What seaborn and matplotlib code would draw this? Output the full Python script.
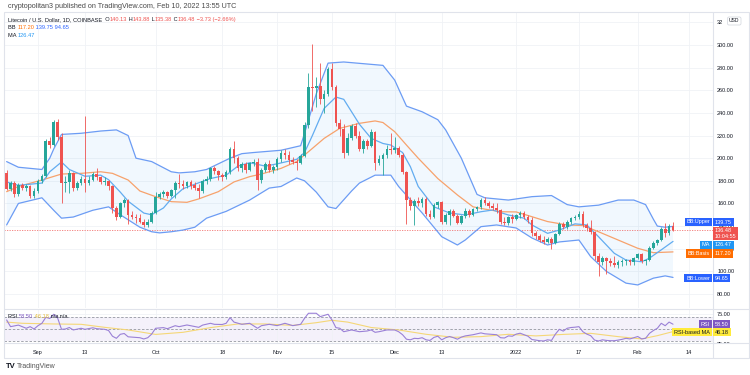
import numpy as np
import pandas as pd
import matplotlib
matplotlib.use("Agg")
import matplotlib.pyplot as plt
import matplotlib.dates as mdates
from matplotlib.lines import Line2D
from matplotlib.patches import Rectangle
from matplotlib.transforms import Bbox, TransformedBbox, blended_transform_factory
import seaborn as sns

# ------------------------------------------------------------------ data
first_day = "2021-08-24"

open_prices = [
    187, 173, 178, 168, 176, 174, 175, 167,
    171, 180, 184, 215, 212, 232, 219, 178, 179, 187, 174, 178, 182, 178, 181, 186, 183, 179, 180, 175,
    156, 148, 160, 163, 150, 148, 147, 144, 141, 144,
    152, 166, 168, 170, 167, 172, 178, 177, 175, 179, 176, 174, 171, 180, 182, 191, 189, 185, 183, 188,
    208, 200, 191, 195, 190, 196, 197, 181, 190, 195, 190,
    192, 199, 205, 203, 198, 197, 196, 202, 229, 263, 262, 264, 252, 257, 279, 263, 231, 226, 205, 218,
    228, 220, 208, 215, 211, 223, 196, 199, 203, 208,
    207, 209, 203, 188, 163, 158, 162, 160, 164, 151, 148, 159, 161, 144, 150, 153, 149, 143, 149, 153,
    150, 155, 157, 163, 160, 158, 156, 154, 144, 143, 148,
    146, 150, 152, 148, 145, 134, 131, 128, 126, 129, 125, 133, 142, 139, 144, 147, 148, 151, 141, 138,
    135, 114, 108, 112, 109, 107, 106, 108, 109, 110, 108,
    112, 115, 109, 110, 121, 125, 128, 137, 134, 140.13,
]
high_prices = [
    190, 180, 180, 178, 178, 177, 176, 174,
    182, 186, 217, 219, 234, 235, 222, 184, 190, 188, 180, 184, 237, 184, 188, 191, 184, 183, 181, 176,
    158, 161, 165, 164, 153, 151, 151, 146, 146, 153,
    170, 170, 172, 171, 173, 180, 186, 181, 180, 181, 179, 177, 182, 184, 192, 193, 190, 187, 190, 210,
    215, 202, 197, 197, 197, 199, 200, 191, 197, 198, 194,
    201, 207, 208, 206, 201, 199, 204, 232, 275, 301, 272, 284, 260, 281, 284, 265, 235, 230, 222, 230,
    231, 224, 217, 217, 226, 224, 203, 205, 212, 222,
    219, 211, 205, 189, 166, 164, 166, 166, 166, 154, 160, 162, 162, 152, 155, 155, 151, 150, 156, 155,
    156, 158, 165, 166, 162, 160, 160, 155, 148, 149, 151,
    151, 153, 153, 150, 148, 136, 133, 131, 130, 130, 134, 144, 144, 145, 148, 150, 153, 153, 143, 145,
    136, 116, 114, 113, 112, 114, 110, 111, 111, 111, 113,
    116, 116, 111, 122, 127, 129, 139, 143, 142, 143.88,
]
low_prices = [
    172, 171, 166, 167, 172, 171, 165, 165,
    169, 178, 183, 209, 211, 216, 160, 170, 169, 171, 172, 176, 170, 176, 180, 181, 177, 176, 172, 152,
    145, 147, 157, 142, 146, 143, 143, 139, 139, 143,
    151, 164, 166, 165, 166, 165, 174, 173, 174, 173, 172, 165, 169, 177, 180, 186, 181, 180, 182, 186,
    196, 189, 188, 187, 189, 193, 172, 178, 188, 188, 187,
    190, 197, 199, 195, 195, 190, 195, 201, 227, 242, 245, 248, 240, 255, 260, 228, 220, 200, 203, 216,
    218, 206, 205, 208, 210, 190, 194, 185, 200, 204,
    205, 201, 186, 142, 154, 141, 158, 157, 149, 146, 147, 156, 142, 142, 141, 148, 142, 142, 147, 148,
    149, 153, 155, 159, 156, 154, 152, 142, 141, 141, 143,
    145, 147, 146, 143, 131, 129, 126, 124, 125, 120, 124, 132, 137, 137, 142, 145, 146, 139, 136, 133,
    110, 96, 106, 98, 105, 104, 103, 105, 106, 106, 106,
    111, 107, 106, 109, 120, 123, 127, 130, 132, 135.38,
]
close_prices = [
    173, 178, 168, 176, 174, 175, 167, 171,
    180, 184, 215, 212, 232, 219, 178, 179, 187, 174, 178, 182, 178, 181, 186, 183, 179, 180, 175, 156,
    148, 160, 163, 150, 148, 147, 144, 141, 144, 152,
    166, 168, 170, 167, 172, 178, 177, 175, 179, 175, 174, 171, 180, 182, 191, 189, 185, 183, 188, 208,
    200, 191, 195, 190, 196, 197, 181, 190, 195, 190, 192,
    199, 205, 203, 198, 197, 196, 202, 229, 263, 262, 264, 252, 257, 279, 263, 231, 226, 205, 218, 228,
    220, 208, 215, 211, 223, 196, 199, 203, 208, 207,
    209, 203, 188, 163, 158, 162, 160, 164, 151, 148, 159, 161, 144, 150, 153, 149, 143, 149, 153, 150,
    155, 157, 163, 160, 158, 156, 154, 144, 143, 148, 146,
    150, 152, 148, 145, 134, 131, 128, 126, 129, 125, 133, 142, 139, 144, 147, 148, 151, 141, 138, 135,
    114, 108, 112, 109, 107, 106, 108, 109, 110, 108, 112,
    115, 109, 110, 121, 125, 128, 137, 134, 140.13, 136.48,
]

bb_upper_dates = [
    "2021-08-24", "2021-08-27", "2021-09-02", "2021-09-04", "2021-09-05", "2021-09-07", "2021-09-12",
    "2021-09-17", "2021-09-21", "2021-09-24", "2021-09-25", "2021-09-26", "2021-09-30", "2021-10-05",
    "2021-10-07", "2021-10-11", "2021-10-14", "2021-10-17", "2021-10-20", "2021-10-23", "2021-10-26",
    "2021-11-02", "2021-11-07", "2021-11-08", "2021-11-11", "2021-11-14", "2021-11-18", "2021-11-28",
    "2021-12-01", "2021-12-04", "2021-12-08", "2021-12-12", "2021-12-14", "2021-12-18", "2021-12-22",
    "2021-12-24", "2021-12-30", "2022-01-05", "2022-01-10", "2022-01-14", "2022-01-17", "2022-01-22",
    "2022-01-27", "2022-01-31", "2022-02-03", "2022-02-05", "2022-02-06", "2022-02-08", "2022-02-10",
]
bb_upper = [
    197, 192, 190, 200, 208, 221, 222, 224, 225, 220, 210, 200, 197, 188, 187, 188, 190, 195, 200, 204,
    205, 207, 211, 222, 257, 284, 285, 282, 269, 246, 241, 234, 225, 200, 168, 165, 163, 166, 167, 159,
    157, 158.5, 163, 163, 159, 146, 140, 139, 139.75,
]
bb_lower_dates = [
    "2021-08-24", "2021-08-27", "2021-09-02", "2021-09-05", "2021-09-07", "2021-09-10", "2021-09-15",
    "2021-09-19", "2021-09-22", "2021-09-27", "2021-09-30", "2021-10-02", "2021-10-05", "2021-10-08",
    "2021-10-11", "2021-10-14", "2021-10-19", "2021-10-25", "2021-10-30", "2021-11-02", "2021-11-06",
    "2021-11-08", "2021-11-11", "2021-11-14", "2021-11-16", "2021-11-20", "2021-11-22", "2021-11-26",
    "2021-11-30", "2021-12-02", "2021-12-08", "2021-12-13", "2021-12-17", "2021-12-19", "2021-12-23",
    "2021-12-27", "2022-01-01", "2022-01-05", "2022-01-09", "2022-01-12", "2022-01-17", "2022-01-20",
    "2022-01-24", "2022-01-29", "2022-02-01", "2022-02-05", "2022-02-08", "2022-02-10",
]
bb_lower = [
    141, 160, 165, 154, 147, 148, 154, 157, 150, 139, 135, 134, 135, 136.5, 139, 147, 153, 163, 173.6, 175,
    182.5, 180, 170, 157, 155.5, 171, 178, 185, 185, 175, 151.6, 130.6, 123.3, 127.7, 139.5, 141, 138.3,
    129.5, 123.3, 126, 127.7, 113, 100, 89.6, 88, 94, 96, 94.65,
]
bb_basis_dates = [
    "2021-08-24", "2021-08-27", "2021-09-02", "2021-09-07", "2021-09-12", "2021-09-17", "2021-09-20",
    "2021-09-24", "2021-09-27", "2021-10-01", "2021-10-05", "2021-10-09", "2021-10-12", "2021-10-17",
    "2021-10-21", "2021-10-25", "2021-10-28", "2021-11-02", "2021-11-06", "2021-11-09", "2021-11-13",
    "2021-11-17", "2021-11-22", "2021-11-26", "2021-11-28", "2021-12-01", "2021-12-04", "2021-12-07",
    "2021-12-12", "2021-12-17", "2021-12-21", "2021-12-24", "2021-12-28", "2022-01-01", "2022-01-05",
    "2022-01-09", "2022-01-14", "2022-01-18", "2022-01-22", "2022-01-27", "2022-02-01", "2022-02-05",
    "2022-02-10",
]
bb_basis = [
    170.4, 175, 180.7, 186, 186.6, 188, 186.6, 180.7, 171, 166, 161.6, 161, 164, 170.4, 179, 183.7, 186,
    191, 197, 205.7, 217.5, 226.4, 230.8, 232.9, 231.5, 223.4, 211.6, 200, 182, 167.5, 157, 155, 152.7,
    152.5, 148.3, 144, 141, 140.5, 135, 127.7, 120.4, 116.5, 117.2,
]
ma_dates = [
    "2021-08-24", "2021-08-27", "2021-09-02", "2021-09-04", "2021-09-07", "2021-09-09", "2021-09-13",
    "2021-09-17", "2021-09-19", "2021-09-22", "2021-09-24", "2021-09-28", "2021-09-30", "2021-10-03",
    "2021-10-05", "2021-10-08", "2021-10-11", "2021-10-15", "2021-10-19", "2021-10-22", "2021-10-25",
    "2021-10-29", "2021-11-01", "2021-11-06", "2021-11-08", "2021-11-10", "2021-11-13", "2021-11-16",
    "2021-11-18", "2021-11-20", "2021-11-22", "2021-11-25", "2021-11-28", "2021-11-30", "2021-12-03",
    "2021-12-05", "2021-12-07", "2021-12-11", "2021-12-15", "2021-12-19", "2021-12-23", "2021-12-26",
    "2021-12-30", "2022-01-03", "2022-01-05", "2022-01-09", "2022-01-12", "2022-01-16", "2022-01-19",
    "2022-01-22", "2022-01-26", "2022-01-29", "2022-02-02", "2022-02-04", "2022-02-07", "2022-02-10",
]
ma_values = [
    179, 176, 178, 188, 196.6, 190, 184, 185, 181, 170, 162, 151.5, 150, 156, 164, 173, 177, 182, 185,
    193, 196, 193, 195, 199, 205, 220, 244, 254, 252, 241, 230, 217.5, 213, 211.6, 205, 192.5, 175, 157,
    151.6, 149.8, 152.7, 154.2, 149.8, 147, 141, 133.6, 136.5, 142, 141, 130.6, 116, 110, 108.5, 111.7,
    119, 126.47,
]
rsi_dates = [
    "2021-08-24", "2021-08-25", "2021-08-27", "2021-08-29", "2021-08-30", "2021-08-31", "2021-09-01",
    "2021-09-02", "2021-09-03", "2021-09-04", "2021-09-05", "2021-09-06", "2021-09-07", "2021-09-08",
    "2021-09-09", "2021-09-10", "2021-09-12", "2021-09-13", "2021-09-15", "2021-09-16", "2021-09-18",
    "2021-09-19", "2021-09-20", "2021-09-21", "2021-09-22", "2021-09-23", "2021-09-24", "2021-09-25",
    "2021-09-27", "2021-09-28", "2021-09-29", "2021-09-30", "2021-10-01", "2021-10-03", "2021-10-04",
    "2021-10-06", "2021-10-07", "2021-10-09", "2021-10-12", "2021-10-13", "2021-10-15", "2021-10-16",
    "2021-10-18", "2021-10-19", "2021-10-20", "2021-10-21", "2021-10-23", "2021-10-25", "2021-10-27",
    "2021-10-28", "2021-10-30", "2021-11-01", "2021-11-03", "2021-11-05", "2021-11-07", "2021-11-08",
    "2021-11-09", "2021-11-11", "2021-11-12", "2021-11-14", "2021-11-15", "2021-11-16", "2021-11-17",
    "2021-11-18", "2021-11-20", "2021-11-22", "2021-11-24", "2021-11-25", "2021-11-26", "2021-11-27",
    "2021-11-29", "2021-12-01", "2021-12-02", "2021-12-03", "2021-12-04", "2021-12-05", "2021-12-06",
    "2021-12-07", "2021-12-08", "2021-12-09", "2021-12-10", "2021-12-11", "2021-12-12", "2021-12-13",
    "2021-12-14", "2021-12-15", "2021-12-16", "2021-12-17", "2021-12-18", "2021-12-19", "2021-12-21",
    "2021-12-23", "2021-12-24", "2021-12-26", "2021-12-27", "2021-12-28", "2021-12-29", "2021-12-30",
    "2021-12-31", "2022-01-01", "2022-01-02", "2022-01-03", "2022-01-04", "2022-01-05", "2022-01-06",
    "2022-01-07", "2022-01-08", "2022-01-09", "2022-01-10", "2022-01-11", "2022-01-12", "2022-01-13",
    "2022-01-14", "2022-01-15", "2022-01-16", "2022-01-17", "2022-01-18", "2022-01-19", "2022-01-20",
    "2022-01-21", "2022-01-22", "2022-01-23", "2022-01-24", "2022-01-25", "2022-01-26", "2022-01-27",
    "2022-01-28", "2022-01-29", "2022-01-30", "2022-01-31", "2022-02-01", "2022-02-02", "2022-02-03",
    "2022-02-04", "2022-02-05", "2022-02-06", "2022-02-07", "2022-02-08", "2022-02-09", "2022-02-10",
]
rsi_values = [
    65.6, 54.4, 57, 51.7, 54.4, 50.5, 56, 60, 70, 68, 75, 69, 50, 50.5, 53, 48.9, 51.7, 50, 52.5, 51,
    50, 48, 38.5, 35, 41.7, 43, 37.5, 37, 36, 33.9, 36, 42, 51.7, 52.8, 51, 56, 54.4, 57.2, 53.3, 57,
    60, 58.3, 58, 60, 69.4, 62, 58.3, 60, 51.7, 56, 58.3, 56.1, 60, 56.1, 58.3, 68.3, 76.7, 76.7, 71.1,
    75, 65.6, 52.8, 51.7, 46, 48.9, 46, 47.2, 49, 45, 46, 48.9, 48.9, 46, 41, 33.5, 32.5, 35, 34.5, 36,
    32.5, 31.5, 36.5, 38.5, 32.5, 36, 38, 36, 33.5, 37, 39, 41, 44, 42.5, 41.5, 41, 36, 35.5, 39, 38.5,
    42, 43.5, 41, 38.5, 33, 32, 31, 30.5, 32.5, 31.5, 42, 50, 47, 51.7, 53, 53.5, 54.4, 46, 42, 39.4,
    32, 30.5, 32.5, 31.5, 31, 31, 32, 33.3, 35, 34, 36, 38, 34, 35, 43.3, 48, 51.7, 60, 56, 62, 58.5,
]
rsi_ma_dates = [
    "2021-08-24", "2021-08-28", "2021-09-05", "2021-09-12", "2021-09-18", "2021-09-24", "2021-10-01",
    "2021-10-08", "2021-10-15", "2021-10-22", "2021-10-29", "2021-11-05", "2021-11-11", "2021-11-15",
    "2021-11-19", "2021-11-25", "2021-12-02", "2021-12-09", "2021-12-16", "2021-12-23", "2021-12-30",
    "2022-01-06", "2022-01-13", "2022-01-20", "2022-01-27", "2022-02-02", "2022-02-06", "2022-02-10",
]
rsi_ma_values = [
    62, 60, 58.9, 58.3, 53.3, 48.9, 41.5, 45, 52.8, 58.9, 58.9, 56.5, 61, 65, 62, 53, 48.9, 41.7, 36.7,
    37.8, 41.7, 39, 41.5, 43.3, 37.8, 34, 39.4, 46.18,
]

price_ticks = [80, 100, 120, 140, 160, 180, 200, 220, 240, 260, 280, 300, 320]
date_ticks = ["2021-09-01", "2021-09-13", "2021-10-01", "2021-10-18", "2021-11-01", "2021-11-15",
              "2021-12-01", "2021-12-13", "2022-01-01", "2022-01-17", "2022-02-01", "2022-02-14"]
date_tick_labels = ["Sep", "13", "Oct", "18", "Nov", "15", "Dec", "13", "2022", "17", "Feb", "14"]

last_price = 136.48

# ------------------------------------------------------------------ style
sns.set_theme(style="white")
plt.rcParams["font.family"] = ["Liberation Sans", "DejaVu Sans"]

UP, DOWN = "#26a69a", "#ef5350"
BAND = "#6c9cf4"
BASIS = "#f7a26c"
MA_C = "#62acf0"
RSI_C = "#9a80d6"
RSIMA_C = "#f5d777"
TXT = "#131722"
GRID = "#f0f2f6"
FRAME = "#e0e3eb"

W, H = 750, 375
fig = plt.figure(figsize=(7.5, 3.75), dpi=100)
fig.patch.set_facecolor("white")


def fx(px):
    return px / W


def fy(py):
    return 1 - py / H


L_, R_ = 4, 713
ax = fig.add_axes([fx(L_), fy(308), (R_ - L_) / W, (308 - 12) / H])
axr = fig.add_axes([fx(L_), fy(343), (R_ - L_) / W, (343 - 309) / H])

# ------------------------------------------------------------------ main pane
dates = pd.date_range(first_day, periods=len(close_prices), freq="D")
o = np.array(open_prices, float)
h = np.array(high_prices, float)
lo = np.array(low_prices, float)
c = np.array(close_prices, float)
cols = np.where(c >= o, UP, DOWN)

up_x = mdates.date2num(pd.to_datetime(bb_upper_dates))
lo_x = mdates.date2num(pd.to_datetime(bb_lower_dates))
ax.fill(np.r_[up_x, lo_x[::-1]], np.r_[bb_upper, bb_lower[::-1]],
        color="#2196f3", alpha=0.06, lw=0, zorder=1)

df_up = pd.DataFrame({"d": pd.to_datetime(bb_upper_dates), "v": bb_upper})
df_lo = pd.DataFrame({"d": pd.to_datetime(bb_lower_dates), "v": bb_lower})
df_ba = pd.DataFrame({"d": pd.to_datetime(bb_basis_dates), "v": bb_basis})
df_ma = pd.DataFrame({"d": pd.to_datetime(ma_dates), "v": ma_values})
for df, col, lw in [(df_up, BAND, 0.9), (df_lo, BAND, 0.9), (df_ba, BASIS, 0.9), (df_ma, MA_C, 0.9)]:
    sns.lineplot(data=df, x="d", y="v", ax=ax, color=col, linewidth=lw, legend=False, zorder=2)

ax.axhline(last_price, color=DOWN, lw=0.6, ls=(0, (1.5, 1.5)), alpha=0.8, zorder=1.5)

ax.vlines(dates, lo, h, colors=cols, linewidth=0.6, zorder=3)
ax.bar(dates, np.maximum(np.abs(c - o), 0.5), bottom=np.minimum(o, c), width=0.68,
       color=cols, linewidth=0, zorder=4)

sep1 = mdates.date2num(pd.Timestamp("2021-09-01"))
xlim = (sep1 - 8.67, sep1 + 172.2)

ax.set_xlim(*xlim)
ax.set_ylim(67.63, 329.16)
ax.yaxis.tick_right()
ax.set_yticks(price_ticks)
ax.set_yticklabels([f"{v:.2f}" if v < 320 else "" for v in price_ticks])
ax.set_xticks(pd.to_datetime(date_ticks))
ax.tick_params(axis="x", labelbottom=False, length=0)
ax.tick_params(axis="y", labelsize=4, colors=TXT, length=0, pad=3)
ax.grid(True, color=GRID, lw=0.6)
ax.set_xlabel("")
ax.set_ylabel("")
for s in ax.spines.values():
    s.set_visible(False)

# ------------------------------------------------------------------ RSI pane
axr.axhspan(30, 70, color="#7e57c2", alpha=0.08, lw=0, zorder=0.5)
for v in (70, 50, 30):
    axr.axhline(v, color="#9598a1", lw=0.6, ls=(0, (3, 2)), zorder=1)
df_rsi = pd.DataFrame({"d": pd.to_datetime(rsi_dates), "v": rsi_values})
df_rma = pd.DataFrame({"d": pd.to_datetime(rsi_ma_dates), "v": rsi_ma_values})
sns.lineplot(data=df_rma, x="d", y="v", ax=axr, color=RSIMA_C, linewidth=0.8, legend=False, zorder=2)
sns.lineplot(data=df_rsi, x="d", y="v", ax=axr, color=RSI_C, linewidth=0.8, legend=False, zorder=3)
axr.set_xlim(*xlim)
axr.set_ylim(27.2, 83.8)
axr.yaxis.tick_right()
axr.set_yticks([75])
axr.set_yticklabels(["75.00"])
axr.set_xticks(pd.to_datetime(date_ticks))
axr.set_xticklabels(date_tick_labels)
axr.tick_params(axis="x", labelsize=4, colors=TXT, length=0, pad=5)
axr.tick_params(axis="y", labelsize=4, colors=TXT, length=0, pad=3)
axr.grid(True, color=GRID, lw=0.6)
axr.set_xlabel("")
axr.set_ylabel("")
for s in axr.spines.values():
    s.set_visible(False)

t25 = axr.text(1.0059, 25, "25.00", fontsize=4, color=TXT, ha="left", va="center",
               transform=blended_transform_factory(axr.transAxes, axr.transData))
t25.set_clip_box(TransformedBbox(Bbox([[fx(713), fy(343)], [1.0, fy(309)]]), fig.transFigure))
t25.set_clip_on(True)

# ------------------------------------------------------------------ frame
fig.add_artist(Rectangle((fx(4), fy(358)), (749 - 4) / W, (358 - 12) / H, fill=False,
                         ec=FRAME, lw=0.8, transform=fig.transFigure))
fig.add_artist(Line2D([fx(713), fx(713)], [fy(12), fy(358)], color=FRAME, lw=0.8))
fig.add_artist(Line2D([fx(4), fx(749)], [fy(308.5), fy(308.5)], color=FRAME, lw=0.8))
fig.add_artist(Line2D([fx(4), fx(749)], [fy(343), fy(343)], color=FRAME, lw=0.8))

# ------------------------------------------------------------------ texts
fig.text(fx(8), fy(6), "cryptopolitan3 published on TradingView.com, Feb 10, 2022 13:55 UTC",
         fontsize=5.2, color="#4a4a4a", va="center", ha="left")


def chain(host, parts, x, y, size=4.1):
    t = fig.text(fx(x), fy(y), parts[0][0], color=parts[0][1], fontsize=size, va="center", ha="left")
    for s, col in parts[1:]:
        t = host.annotate(s, xy=(1, 0), xycoords=t, va="bottom", ha="left", color=col,
                          fontsize=size, annotation_clip=False, zorder=10)
    return t


chain(ax, [("Litecoin / U.S. Dollar, 1D, COINBASE", TXT), ("  O", TXT), ("140.13", DOWN),
           (" H", TXT), ("143.88", DOWN), (" L", TXT), ("135.38", DOWN), (" C", TXT), ("136.48", DOWN),
           (" \u22123.73 (\u22122.66%)", DOWN)], 8, 19.5)
chain(ax, [("BB ", TXT), ("117.20", "#ff6d00"), (" 139.75", "#2962ff"), (" 94.65", "#2962ff")], 8, 27.7)
chain(ax, [("MA ", TXT), ("126.47", "#2196f3")], 8, 35.3)
chain(axr, [("RSI ", TXT), ("58.50", "#7e57c2"), (" 46.18", "#e6bf3c"), (" n/a", TXT), (" n/a", TXT)],
      8, 316)


def tag(x, y, s, fc, tc="white", ha="left", size=4):
    fig.text(fx(x), fy(y), s, fontsize=size, color=tc, ha=ha, va="center", linespacing=1.05,
             bbox=dict(boxstyle="square,pad=0.3", fc=fc, ec="none"))


tag(715, 222, "139.75", "#2962ff")
tag(710, 222, "BB:Upper", "#2962ff", ha="right")
tag(715, 233.5, "136.48\n10:04:55", "#ef5350")
tag(715, 245, "126.47", "#2196f3")
tag(710, 245, "MA", "#2196f3", ha="right")
tag(715, 253.5, "117.20", "#ff6d00")
tag(710, 253.5, "BB:Basis", "#ff6d00", ha="right")
tag(715, 278, "94.65", "#2962ff")
tag(710, 278, "BB:Lower", "#2962ff", ha="right")
tag(715, 324, "58.50", "#7e57c2")
tag(710, 324, "RSI", "#7e57c2", ha="right")
tag(715, 332, "46.18", "#ffeb3b", tc=TXT)
tag(710, 332, "RSI-based MA", "#ffeb3b", tc=TXT, ha="right")

# partially hidden 320.00 label next to the currency box
fig.text(fx(716.5), fy(22.4), "32", fontsize=4, color=TXT, ha="left", va="center")
fig.text(fx(729), fy(21), "USD", fontsize=3.6, color=TXT, ha="left", va="center",
         bbox=dict(boxstyle="round,pad=0.3", fc="white", ec="#d1d4dc", lw=0.5))

fig.text(fx(6), fy(366), "TV", fontsize=5.5, fontweight="bold", color=TXT, ha="left", va="center")
fig.text(fx(17), fy(366), "TradingView", fontsize=5, color="#555555", ha="left", va="center")

fig.savefig("out.png", dpi=100, facecolor="white")
